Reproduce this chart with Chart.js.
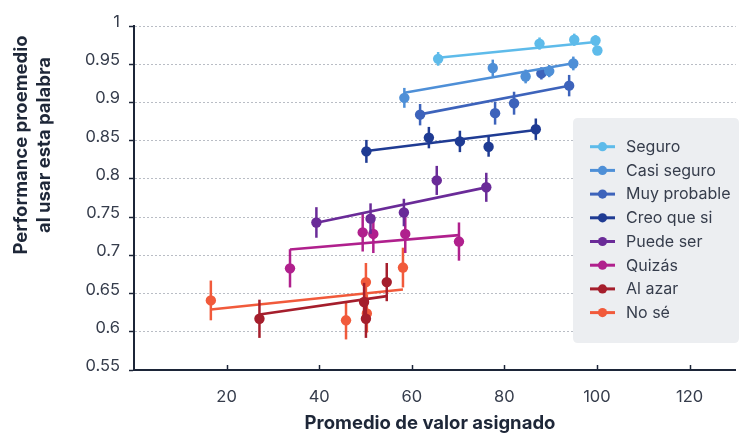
<!DOCTYPE html>
<html lang="es">
<head>
<meta charset="utf-8">
<title>Performance según palabra de confianza</title>
<script src="https://cdn.jsdelivr.net/npm/chart.js@4.4.1/dist/chart.umd.min.js"></script>
<style>
  html, body { margin: 0; padding: 0; background: #ffffff; }
  #wrap { width: 741px; height: 435px; position: relative; }
</style>
</head>
<body>
<div id="wrap"><canvas id="chart" width="741" height="435"></canvas></div>
<script>
// ---- Data ----
const seriesNames = ['Seguro', 'Casi seguro', 'Muy probable', 'Creo que si', 'Puede ser', 'Quizás', 'Al azar', 'No sé'];
const seriesColors = ['#5ebbea', '#4e8fd7', '#3d63bb', '#1f3b93', '#6a2b98', '#b0208d', '#a51e2c', '#f15a3b'];

const seguroX = [65.7, 87.6, 95.1, 99.7, 100.1];
const seguroY = [0.957, 0.977, 0.982, 0.981, 0.968];
const seguroErr = [0.009, 0.008, 0.008, 0.007, 0.006];
const seguroFitX = [65.7, 99.7];
const seguroFitY = [0.9585, 0.9791];

const casiSeguroX = [58.4, 77.5, 84.6, 89.7, 94.9];
const casiSeguroY = [0.906, 0.945, 0.934, 0.941, 0.951];
const casiSeguroErr = [0.013, 0.011, 0.009, 0.008, 0.009];
const casiSeguroFitX = [58.4, 94.9];
const casiSeguroFitY = [0.9127, 0.9512];

const muyProbableX = [61.8, 78.0, 82.1, 88.0, 94.0];
const muyProbableY = [0.884, 0.886, 0.899, 0.938, 0.922];
const muyProbableErr = [0.014, 0.015, 0.015, 0.008, 0.014];
const muyProbableFitX = [61.8, 94.0];
const muyProbableFitY = [0.8844, 0.9219];

const creoQueSiX = [50.2, 63.7, 70.4, 76.6, 86.8];
const creoQueSiY = [0.836, 0.854, 0.849, 0.842, 0.865];
const creoQueSiErr = [0.015, 0.014, 0.014, 0.013, 0.014];
const creoQueSiFitX = [50.2, 86.8];
const creoQueSiFitY = [0.8364, 0.8639];

const puedeSerX = [39.4, 51.1, 58.3, 65.4, 76.1];
const puedeSerY = [0.743, 0.748, 0.756, 0.798, 0.789];
const puedeSerErr = [0.020, 0.020, 0.018, 0.019, 0.019];
const puedeSerFitX = [39.4, 76.1];
const puedeSerFitY = [0.7425, 0.7889];

const quizasX = [33.7, 49.4, 51.7, 58.6, 70.2];
const quizasY = [0.683, 0.730, 0.728, 0.728, 0.718];
const quizasErr = [0.025, 0.025, 0.025, 0.025, 0.025];
const quizasFitX = [33.7, 70.2];
const quizasFitY = [0.7077, 0.7264];

const alAzarX = [27.1, 49.7, 50.1, 54.6];
const alAzarY = [0.617, 0.639, 0.617, 0.665];
const alAzarErr = [0.025, 0.025, 0.025, 0.025];
const alAzarFitX = [27.1, 54.6];
const alAzarFitY = [0.6226, 0.6466];

const noSeX = [16.6, 45.8, 50.1, 50.3, 58.1];
const noSeY = [0.641, 0.615, 0.665, 0.624, 0.684];
const noSeErr = [0.026, 0.025, 0.025, 0.025, 0.026];
const noSeFitX = [16.6, 58.1];
const noSeFitY = [0.6292, 0.6554];

const xTickValues = [20, 40, 60, 80, 100, 120];
const xTickLabels = ['20', '40', '60', '80', '100', '120'];
const yTickValues = [0.55, 0.6, 0.65, 0.7, 0.75, 0.8, 0.85, 0.9, 0.95, 1];
const yTickLabels = ['0.55', '0.6', '0.65', '0.7', '0.75', '0.8', '0.85', '0.9', '0.95', '1'];

const xTitle = 'Promedio de valor asignado';
const yTitleLines = ['Performance proemedio', 'al usar esta palabra'];

// ---- Build datasets ----
const groups = [
  [seguroX, seguroY, seguroErr, seguroFitX, seguroFitY],
  [casiSeguroX, casiSeguroY, casiSeguroErr, casiSeguroFitX, casiSeguroFitY],
  [muyProbableX, muyProbableY, muyProbableErr, muyProbableFitX, muyProbableFitY],
  [creoQueSiX, creoQueSiY, creoQueSiErr, creoQueSiFitX, creoQueSiFitY],
  [puedeSerX, puedeSerY, puedeSerErr, puedeSerFitX, puedeSerFitY],
  [quizasX, quizasY, quizasErr, quizasFitX, quizasFitY],
  [alAzarX, alAzarY, alAzarErr, alAzarFitX, alAzarFitY],
  [noSeX, noSeY, noSeErr, noSeFitX, noSeFitY]
];

const zip = (xs, ys) => xs.map((x, i) => ({ x: x, y: ys[i] }));

const datasets = [];
groups.forEach((g, k) => {
  const color = seriesColors[k];
  datasets.push({
    label: seriesNames[k] + ' (ajuste)',
    data: zip(g[3], g[4]),
    showLine: true,
    borderColor: color,
    borderWidth: 2.6,
    pointRadius: 0,
    pointHoverRadius: 0,
    fill: false
  });
  datasets.push({
    label: seriesNames[k],
    data: zip(g[0], g[1]),
    errors: g[2],
    showLine: false,
    backgroundColor: color,
    borderColor: color,
    borderWidth: 0,
    pointRadius: 5.2,
    pointHoverRadius: 5.2
  });
});

// ---- Plugins ----
const AXIS_COLOR = '#1c2538';
const TEXT_COLOR = '#363d4c';
const FONT = 'Inter, "Open Sans", sans-serif';

// vertical error bars, drawn just under each point set
const errorBars = {
  id: 'errorBars',
  beforeDatasetDraw(chart, args) {
    const ds = chart.data.datasets[args.index];
    if (!ds.errors) return;
    const ctx = chart.ctx, xs = chart.scales.x, ys = chart.scales.y;
    ctx.save();
    ctx.strokeStyle = ds.borderColor;
    ctx.lineWidth = 2.5;
    ds.data.forEach((p, i) => {
      const px = xs.getPixelForValue(p.x);
      ctx.beginPath();
      ctx.moveTo(px, ys.getPixelForValue(p.y - ds.errors[i]));
      ctx.lineTo(px, ys.getPixelForValue(p.y + ds.errors[i]));
      ctx.stroke();
    });
    ctx.restore();
  }
};

// inward tick marks on the x axis, axis titles and the legend panel
const decorations = {
  id: 'decorations',
  afterDraw(chart) {
    const ctx = chart.ctx, area = chart.chartArea, xs = chart.scales.x;
    ctx.save();

    // x tick marks pointing up into the plot
    ctx.strokeStyle = AXIS_COLOR;
    ctx.lineWidth = 1.5;
    xTickValues.forEach(v => {
      const px = Math.round(xs.getPixelForValue(v)) + 0.5;
      ctx.beginPath();
      ctx.moveTo(px, area.bottom);
      ctx.lineTo(px, area.bottom - 5);
      ctx.stroke();
    });

    // axis titles
    ctx.fillStyle = '#1e2738';
    ctx.font = 'bold 18.5px ' + FONT;
    ctx.textAlign = 'center';
    ctx.textBaseline = 'middle';
    ctx.fillText(xTitle, 430, 423);

    ctx.save();
    ctx.translate(33, 145);
    ctx.rotate(-Math.PI / 2);
    ctx.fillText(yTitleLines[0], 0, -11.5);
    ctx.fillText(yTitleLines[1], 0, 11.5);
    ctx.restore();

    // legend panel
    const bx = 573, by = 118, bw = 166, bh = 225, r = 5;
    ctx.fillStyle = '#eceef1';
    ctx.beginPath();
    ctx.moveTo(bx + r, by);
    ctx.lineTo(bx + bw - r, by);
    ctx.quadraticCurveTo(bx + bw, by, bx + bw, by + r);
    ctx.lineTo(bx + bw, by + bh - r);
    ctx.quadraticCurveTo(bx + bw, by + bh, bx + bw - r, by + bh);
    ctx.lineTo(bx + r, by + bh);
    ctx.quadraticCurveTo(bx, by + bh, bx, by + bh - r);
    ctx.lineTo(bx, by + r);
    ctx.quadraticCurveTo(bx, by, bx + r, by);
    ctx.closePath();
    ctx.fill();

    ctx.font = '16px ' + FONT;
    ctx.textAlign = 'left';
    ctx.textBaseline = 'middle';
    seriesNames.forEach((name, i) => {
      const y = 146.7 + i * 23.7;
      ctx.strokeStyle = seriesColors[i];
      ctx.lineWidth = 3;
      ctx.beginPath();
      ctx.moveTo(590, y);
      ctx.lineTo(615, y);
      ctx.stroke();
      ctx.fillStyle = seriesColors[i];
      ctx.beginPath();
      ctx.arc(602.5, y, 4.6, 0, Math.PI * 2);
      ctx.fill();
      ctx.fillStyle = TEXT_COLOR;
      ctx.fillText(name, 626, y + 0.5);
    });

    ctx.restore();
  }
};

// ---- Chart ----
new Chart(document.getElementById('chart'), {
  type: 'scatter',
  data: { datasets: datasets },
  plugins: [errorBars, decorations],
  options: {
    responsive: false,
    animation: false,
    devicePixelRatio: 1,
    layout: { padding: { top: 26, right: -5, bottom: 0, left: 0 } },
    plugins: {
      legend: { display: false },
      tooltip: { enabled: false },
      title: { display: false }
    },
    scales: {
      x: {
        type: 'linear',
        min: 0,
        max: 130,
        afterBuildTicks: s => { s.ticks = xTickValues.map(v => ({ value: v })); },
        afterFit: s => { s.height = 65; s.paddingLeft = 0; s.paddingRight = 0; },
        ticks: {
          callback: (v, i) => xTickLabels[i],
          padding: 17,
          color: TEXT_COLOR,
          font: { family: FONT, size: 16.5 },
          maxRotation: 0
        },
        grid: { display: false, drawTicks: false },
        border: { display: true, color: AXIS_COLOR, width: 2 }
      },
      y: {
        type: 'linear',
        min: 0.55,
        max: 1,
        afterBuildTicks: s => { s.ticks = yTickValues.map(v => ({ value: v })); },
        afterFit: s => { s.width = 134; },
        ticks: {
          callback: (v, i) => yTickLabels[i],
          padding: 9,
          labelOffset: -4,
          color: TEXT_COLOR,
          font: { family: FONT, size: 16.5 }
        },
        grid: {
          color: c => (c.tick && c.tick.value === 0.55) ? 'rgba(0,0,0,0)' : '#b9bdc5',
          lineWidth: 1,
          drawTicks: true,
          tickLength: 5,
          tickColor: AXIS_COLOR,
          tickWidth: 1.5,
          tickBorderDash: []
        },
        border: { display: true, color: AXIS_COLOR, width: 2, dash: [2, 2] }
      }
    }
  }
});
</script>
</body>
</html>
